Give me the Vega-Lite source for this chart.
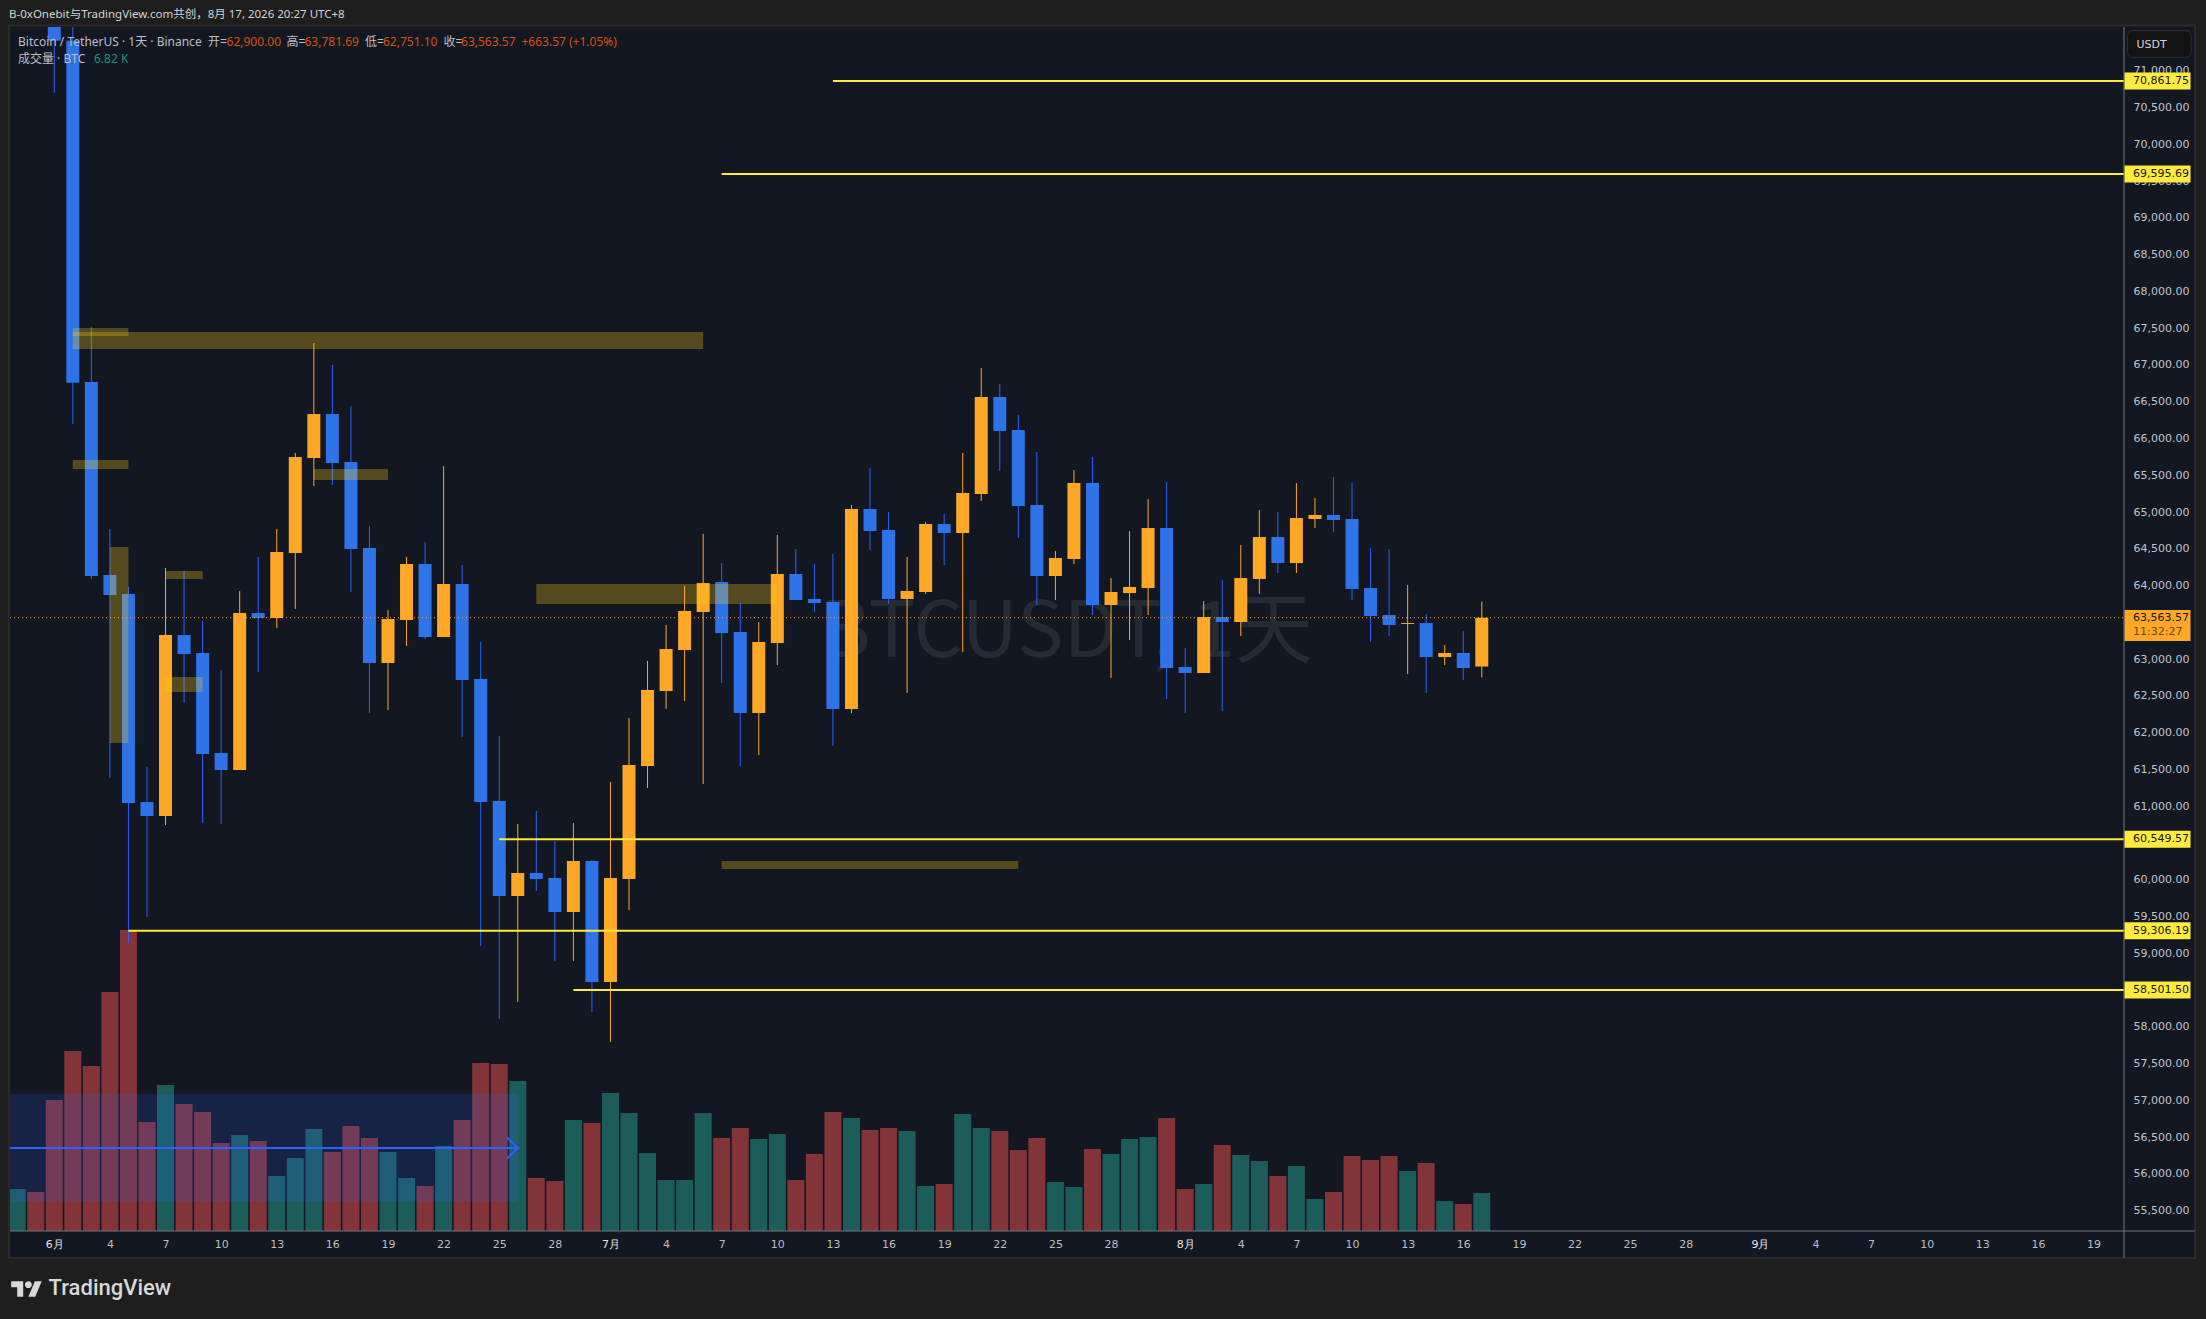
{
"$schema":"https://vega.github.io/schema/vega-lite/v6.json",
"autosize":{"type":"none"},
"padding":{"left":10,"top":27,"right":82,"bottom":88},
"width":2114,"height":1204,
"background":"#121721",
"config":{"view":{"stroke":null},"axis":{"grid":false}},
"datasets":{
"volume":[
{"d":"2026-05-30","v":7535,"up":1},{"d":"2026-05-31","v":6997,"up":0},{"d":"2026-06-01","v":23501,"up":0},{"d":"2026-06-02","v":32292,"up":0},{"d":"2026-06-03","v":29601,"up":0},{"d":"2026-06-04","v":42877,"up":0},{"d":"2026-06-05","v":53999,"up":0},{"d":"2026-06-06","v":19555,"up":0},{"d":"2026-06-07","v":26192,"up":1},{"d":"2026-06-08","v":22784,"up":0},{"d":"2026-06-09","v":21349,"up":0},{"d":"2026-06-10","v":15787,"up":0},{"d":"2026-06-11","v":17222,"up":1},{"d":"2026-06-12","v":16146,"up":0},{"d":"2026-06-13","v":9867,"up":1},{"d":"2026-06-14","v":13096,"up":1},{"d":"2026-06-15","v":18299,"up":1},{"d":"2026-06-16","v":14173,"up":0},{"d":"2026-06-17","v":18837,"up":0},{"d":"2026-06-18","v":16684,"up":0},{"d":"2026-06-19","v":14173,"up":1},{"d":"2026-06-20","v":9508,"up":1},{"d":"2026-06-21","v":8073,"up":0},{"d":"2026-06-22","v":15249,"up":1},{"d":"2026-06-23","v":19913,"up":0},{"d":"2026-06-24","v":30139,"up":0},{"d":"2026-06-25","v":29960,"up":0},{"d":"2026-06-26","v":26910,"up":1},{"d":"2026-06-27","v":9508,"up":0},{"d":"2026-06-28","v":8970,"up":0},{"d":"2026-06-29","v":19913,"up":1},{"d":"2026-06-30","v":19375,"up":0},
{"d":"2026-07-01","v":24757,"up":1},{"d":"2026-07-02","v":21169,"up":1},{"d":"2026-07-03","v":13993,"up":1},{"d":"2026-07-04","v":9149,"up":1},{"d":"2026-07-05","v":9149,"up":1},{"d":"2026-07-06","v":21169,"up":1},{"d":"2026-07-07","v":16684,"up":0},{"d":"2026-07-08","v":18478,"up":0},{"d":"2026-07-09","v":16505,"up":1},{"d":"2026-07-10","v":17402,"up":1},{"d":"2026-07-11","v":9149,"up":0},{"d":"2026-07-12","v":13814,"up":0},{"d":"2026-07-13","v":21349,"up":0},{"d":"2026-07-14","v":20272,"up":1},{"d":"2026-07-15","v":18119,"up":0},{"d":"2026-07-16","v":18478,"up":0},{"d":"2026-07-17","v":17940,"up":1},{"d":"2026-07-18","v":8073,"up":1},{"d":"2026-07-19","v":8432,"up":0},{"d":"2026-07-20","v":20990,"up":1},{"d":"2026-07-21","v":18478,"up":1},{"d":"2026-07-22","v":17940,"up":0},{"d":"2026-07-23","v":14531,"up":0},{"d":"2026-07-24","v":16684,"up":0},{"d":"2026-07-25","v":8791,"up":1},{"d":"2026-07-26","v":7894,"up":1},{"d":"2026-07-27","v":14711,"up":0},{"d":"2026-07-28","v":13814,"up":1},{"d":"2026-07-29","v":16505,"up":1},{"d":"2026-07-30","v":16864,"up":1},{"d":"2026-07-31","v":20272,"up":0},
{"d":"2026-08-01","v":7535,"up":0},{"d":"2026-08-02","v":8432,"up":1},{"d":"2026-08-03","v":15428,"up":0},{"d":"2026-08-04","v":13634,"up":1},{"d":"2026-08-05","v":12558,"up":1},{"d":"2026-08-06","v":9867,"up":0},{"d":"2026-08-07","v":11661,"up":1},{"d":"2026-08-08","v":5741,"up":1},{"d":"2026-08-09","v":6997,"up":0},{"d":"2026-08-10","v":13455,"up":0},{"d":"2026-08-11","v":12737,"up":0},{"d":"2026-08-12","v":13455,"up":0},{"d":"2026-08-13","v":10764,"up":1},{"d":"2026-08-14","v":12199,"up":0},{"d":"2026-08-15","v":5382,"up":1},{"d":"2026-08-16","v":4844,"up":0},{"d":"2026-08-17","v":6820,"up":1}
],
"candles":[
{"d":"2026-06-01","o":71800,"h":72000,"l":70703,"c":71410},{"d":"2026-06-02","o":71410,"h":71650,"l":66198,"c":66759},{"d":"2026-06-03","o":66769,"h":67521,"l":64090,"c":64131},{"d":"2026-06-04","o":64144,"h":64770,"l":61384,"c":63872},{"d":"2026-06-05","o":63886,"h":63981,"l":59140,"c":61044},{"d":"2026-06-06","o":61057,"h":61533,"l":59498,"c":60867},{"d":"2026-06-07","o":60867,"h":64239,"l":60745,"c":63328},{"d":"2026-06-08","o":63328,"h":64199,"l":62404,"c":63070},{"d":"2026-06-09","o":63084,"h":63519,"l":60772,"c":61710},{"d":"2026-06-10","o":61724,"h":62852,"l":60758,"c":61493},{"d":"2026-06-11","o":61493,"h":63927,"l":61493,"c":63627},{"d":"2026-06-12","o":63627,"h":64389,"l":62825,"c":63559},{"d":"2026-06-13","o":63559,"h":64770,"l":63423,"c":64457},{"d":"2026-06-14","o":64443,"h":65803,"l":63682,"c":65749},{"d":"2026-06-15","o":65735,"h":67299,"l":65354,"c":66333},{"d":"2026-06-16","o":66333,"h":67000,"l":65368,"c":65667},{"d":"2026-06-17","o":65681,"h":66442,"l":63913,"c":64498},{"d":"2026-06-18","o":64511,"h":64810,"l":62268,"c":62948},{"d":"2026-06-19","o":62948,"h":63668,"l":62308,"c":63546},{"d":"2026-06-20","o":63532,"h":64389,"l":63179,"c":64294},{"d":"2026-06-21","o":64294,"h":64593,"l":63274,"c":63301},{"d":"2026-06-22","o":63301,"h":65626,"l":63301,"c":64022},{"d":"2026-06-23","o":64022,"h":64280,"l":61941,"c":62716},{"d":"2026-06-24","o":62730,"h":63233,"l":59099,"c":61057},{"d":"2026-06-25","o":61071,"h":61955,"l":58107,"c":59779},{"d":"2026-06-26","o":59779,"h":60758,"l":58338,"c":60092},{"d":"2026-06-27","o":60092,"h":60935,"l":59847,"c":60010},{"d":"2026-06-28","o":60024,"h":60527,"l":58895,"c":59562},{"d":"2026-06-29","o":59562,"h":60772,"l":58895,"c":60255},{"d":"2026-06-30","o":60255,"h":60269,"l":58202,"c":58610},
{"d":"2026-07-01","o":58610,"h":61329,"l":57794,"c":60024},{"d":"2026-07-02","o":60010,"h":62200,"l":59589,"c":61561},{"d":"2026-07-03","o":61547,"h":62975,"l":61248,"c":62580},{"d":"2026-07-04","o":62567,"h":63464,"l":62322,"c":63138},{"d":"2026-07-05","o":63124,"h":63995,"l":62431,"c":63655},{"d":"2026-07-06","o":63641,"h":64702,"l":61302,"c":64035},{"d":"2026-07-07","o":64049,"h":64307,"l":62676,"c":63355},{"d":"2026-07-08","o":63369,"h":63763,"l":61547,"c":62268},{"d":"2026-07-09","o":62268,"h":63505,"l":61697,"c":63233},{"d":"2026-07-10","o":63219,"h":64688,"l":62920,"c":64158},{"d":"2026-07-11","o":64158,"h":64498,"l":63804,"c":63804},{"d":"2026-07-12","o":63818,"h":64294,"l":63641,"c":63763},{"d":"2026-07-13","o":63777,"h":64430,"l":61819,"c":62322},{"d":"2026-07-14","o":62322,"h":65096,"l":62268,"c":65042},{"d":"2026-07-15","o":65042,"h":65599,"l":64484,"c":64742},{"d":"2026-07-16","o":64756,"h":65001,"l":63750,"c":63818},{"d":"2026-07-17","o":63818,"h":64389,"l":62540,"c":63927},{"d":"2026-07-18","o":63913,"h":64865,"l":63886,"c":64838},{"d":"2026-07-19","o":64838,"h":64974,"l":64280,"c":64715},{"d":"2026-07-20","o":64715,"h":65803,"l":63097,"c":65259},{"d":"2026-07-21","o":65246,"h":66959,"l":65150,"c":66565},{"d":"2026-07-22","o":66565,"h":66741,"l":65558,"c":66102},{"d":"2026-07-23","o":66116,"h":66320,"l":64647,"c":65082},{"d":"2026-07-24","o":65096,"h":65817,"l":63736,"c":64131},{"d":"2026-07-25","o":64131,"h":64471,"l":63804,"c":64375},{"d":"2026-07-26","o":64362,"h":65572,"l":64294,"c":65395},{"d":"2026-07-27","o":65395,"h":65749,"l":63600,"c":63736},{"d":"2026-07-28","o":63736,"h":64103,"l":62744,"c":63913},{"d":"2026-07-29","o":63899,"h":64742,"l":63260,"c":63981},{"d":"2026-07-30","o":63967,"h":65178,"l":63600,"c":64783},{"d":"2026-07-31","o":64783,"h":65409,"l":62458,"c":62880},
{"d":"2026-08-01","o":62893,"h":63151,"l":62268,"c":62812},{"d":"2026-08-02","o":62812,"h":63791,"l":62812,"c":63573},{"d":"2026-08-03","o":63573,"h":64076,"l":62295,"c":63505},{"d":"2026-08-04","o":63505,"h":64552,"l":63315,"c":64103},{"d":"2026-08-05","o":64090,"h":65028,"l":63886,"c":64661},{"d":"2026-08-06","o":64661,"h":65001,"l":64171,"c":64307},{"d":"2026-08-07","o":64307,"h":65395,"l":64171,"c":64919},{"d":"2026-08-08","o":64906,"h":65191,"l":64783,"c":64960},{"d":"2026-08-09","o":64960,"h":65477,"l":64729,"c":64892},{"d":"2026-08-10","o":64906,"h":65395,"l":63804,"c":63954},{"d":"2026-08-11","o":63967,"h":64511,"l":63233,"c":63587},{"d":"2026-08-12","o":63600,"h":64498,"l":63315,"c":63464},{"d":"2026-08-13","o":63478,"h":64008,"l":62798,"c":63491},{"d":"2026-08-14","o":63491,"h":63614,"l":62540,"c":63029},{"d":"2026-08-15","o":63029,"h":63192,"l":62920,"c":63084},{"d":"2026-08-16","o":63084,"h":63383,"l":62716,"c":62880},{"d":"2026-08-17","o":62900,"h":63781.69,"l":62751.1,"c":63563.57}
],
"zones":[
{"d":"2026-06-02","d2":"2026-07-06","p":67449,"p2":67217},{"d":"2026-06-02","d2":"2026-06-05","p":67503,"p2":67394},{"d":"2026-06-02","d2":"2026-06-05","p":65708,"p2":65586},{"d":"2026-06-15","d2":"2026-06-19","p":65586,"p2":65436},{"d":"2026-06-04","d2":"2026-06-05","p":64525,"p2":61860},{"d":"2026-06-07","d2":"2026-06-09","p":64199,"p2":64090},{"d":"2026-06-07","d2":"2026-06-09","p":62757,"p2":62553},{"d":"2026-06-27","d2":"2026-07-10","p":64022,"p2":63750},{"d":"2026-07-07","d2":"2026-07-23","p":60255,"p2":60147}
],
"band":[{"d":"2026-05-29T14:40:00Z","d2":"2026-06-26","p":57087,"p2":55622}],
"arrow":[
{"d":"2026-05-29T14:40:00Z","p":56352,"seq":1},{"d":"2026-06-26","p":56352,"seq":2},{"d":"2026-06-25T09:36:00Z","p":56502,"seq":3},{"d":"2026-06-26","p":56352,"seq":4},{"d":"2026-06-25T09:36:00Z","p":56203,"seq":5}
],
"levels":[
{"d":"2026-07-13","p":70861.75,"text":"70,861.75"},{"d":"2026-07-07","p":69595.69,"text":"69,595.69"},{"d":"2026-06-25","p":60549.57,"text":"60,549.57"},{"d":"2026-06-05","p":59306.19,"text":"59,306.19"},{"d":"2026-06-29","p":58501.5,"text":"58,501.50"}
],
"last":[{"d":"2026-05-29T14:40:00Z","p":63563.57}],
"lastTag":[{"d":"2026-09-20T16:05:00Z","d2":"2026-09-24T05:30:00Z","p":63457}],
"frame":[
{"d":"2026-05-28","d2":"2026-09-26","p":72200,"p2":71615},
{"d":"2026-05-28","d2":"2026-09-26","p":54857,"p2":53900},
{"d":"2026-05-28","d2":"2026-05-29T13:30:00Z","p":72200,"p2":53900},
{"d":"2026-09-24T11:30:00Z","d2":"2026-09-26","p":72200,"p2":53900}
],
"paneEdge":[{"d":"2026-05-29T13:30:00Z","d2":"2026-09-24T11:30:00Z","p":71615,"p2":54857}],
"vEdge":[{"d":"2026-09-20T15:22:00Z","p":71596,"p2":54857}],
"hEdge":[{"d":"2026-05-29T14:40:00Z","d2":"2026-09-24T11:00:00Z","p":55224}],
"button":[{"d":"2026-09-20T20:00:00Z","d2":"2026-09-24T06:14:00Z","p":71546,"p2":71184}],
"legend":[
{"d":"2026-05-30T01:00:00Z","p":71392,"text":"Bitcoin / TetherUS · 1天 · Binance","tone":"g"},
{"d":"2026-06-09T07:00:00Z","p":71392,"text":"开=","tone":"g"},
{"d":"2026-06-10T07:00:00Z","p":71392,"text":"62,900.00","tone":"o"},
{"d":"2026-06-13T12:35:00Z","p":71392,"text":"高=","tone":"g"},
{"d":"2026-06-14T11:53:00Z","p":71392,"text":"63,781.69","tone":"o"},
{"d":"2026-06-17T18:14:00Z","p":71392,"text":"低=","tone":"g"},
{"d":"2026-06-18T17:31:00Z","p":71392,"text":"62,751.10","tone":"o"},
{"d":"2026-06-22T00:00:00Z","p":71392,"text":"收=","tone":"g"},
{"d":"2026-06-22T22:33:00Z","p":71392,"text":"63,563.57","tone":"o"},
{"d":"2026-06-26T04:48:00Z","p":71392,"text":"+663.57 (+1.05%)","tone":"o"},
{"d":"2026-05-30T01:00:00Z","p":71165,"text":"成交量 · BTC","tone":"g"},
{"d":"2026-06-03T03:22:00Z","p":71165,"text":"6.82 K","tone":"t"}
],
"header":[{"d":"2026-05-29T13:26:00Z","p":71763,"text":"B-0xOnebit与TradingView.com共创，8月 17, 2026 20:27 UTC+8"}],
"unit":[{"d":"2026-09-21T07:30:00Z","p":71358,"text":"USDT"}],
"tagText":[
{"d":"2026-09-21T03:00:00Z","p":70861.75,"text":"70,861.75"},{"d":"2026-09-21T03:00:00Z","p":69595.69,"text":"69,595.69"},{"d":"2026-09-21T03:00:00Z","p":60549.57,"text":"60,549.57"},{"d":"2026-09-21T03:00:00Z","p":59306.19,"text":"59,306.19"},{"d":"2026-09-21T03:00:00Z","p":58501.5,"text":"58,501.50"},{"d":"2026-09-21T03:00:00Z","p":63563.57,"text":"63,563.57"}
],
"countdown":[{"d":"2026-09-21T03:00:00Z","p":63373,"text":"11:32:27"}],
"watermark":[{"d":"2026-07-25T14:00:00Z","p":63340,"text":"BTCUSDT, 1天"}],
"brand":[{"d":"2026-05-31T16:38:00Z","p":54449,"text":"TradingView"}],
"logo":[{"d":"2026-05-30T12:14:00Z","p":54436}]
},
"resolve":{"scale":{"y":"independent"},"axis":{"y":"independent"}},
"layer":[
{
"data":{"name":"volume"},
"mark":{"type":"bar","width":17,"clip":true},
"encoding":{
"x":{"field":"d","type":"temporal","scale":{"domain":["2026-05-29T14:40:00Z","2026-09-20T15:22:00Z"],"nice":false,"padding":0},
"axis":{"title":null,"orient":"bottom","domain":false,"ticks":false,"labelPadding":7,"labelFont":"DejaVu Sans","labelFontSize":11,"labelColor":{"condition":{"test":"utcdate(datum.value)==1","value":"#e6e6e6"},"value":"#bcbec4"},"labelOverlap":false,"labelFlush":false,"labelAngle":0,"tickCount":60,
"labelExpr":"utcdate(datum.value)==1 ? (utcmonth(datum.value)+1)+'月' : ''+utcdate(datum.value)",
"values":["2026-06-01T00:00:00Z","2026-06-04T00:00:00Z","2026-06-07T00:00:00Z","2026-06-10T00:00:00Z","2026-06-13T00:00:00Z","2026-06-16T00:00:00Z","2026-06-19T00:00:00Z","2026-06-22T00:00:00Z","2026-06-25T00:00:00Z","2026-06-28T00:00:00Z","2026-07-01T00:00:00Z","2026-07-04T00:00:00Z","2026-07-07T00:00:00Z","2026-07-10T00:00:00Z","2026-07-13T00:00:00Z","2026-07-16T00:00:00Z","2026-07-19T00:00:00Z","2026-07-22T00:00:00Z","2026-07-25T00:00:00Z","2026-07-28T00:00:00Z","2026-08-01T00:00:00Z","2026-08-04T00:00:00Z","2026-08-07T00:00:00Z","2026-08-10T00:00:00Z","2026-08-13T00:00:00Z","2026-08-16T00:00:00Z","2026-08-19T00:00:00Z","2026-08-22T00:00:00Z","2026-08-25T00:00:00Z","2026-08-28T00:00:00Z","2026-09-01T00:00:00Z","2026-09-04T00:00:00Z","2026-09-07T00:00:00Z","2026-09-10T00:00:00Z","2026-09-13T00:00:00Z","2026-09-16T00:00:00Z","2026-09-19T00:00:00Z"]}},
"y":{"field":"v","type":"quantitative","axis":null,"scale":{"domain":[0,216000],"nice":false,"zero":true}},
"fill":{"condition":{"test":"datum.up==1","value":"#1c5d5c"},"value":"#823438"}
}
},
{
"layer":[
{
"data":{"name":"watermark"},
"mark":{"type":"text","font":"Noto Sans CJK SC","fontSize":78,"align":"center","baseline":"middle","color":"#262a33"},
"encoding":{
"x":{"field":"d","type":"temporal"},
"y":{"field":"p","type":"quantitative","scale":{"domain":[55224,71596],"nice":false,"zero":false},
"axis":{"title":null,"orient":"right","domain":false,"ticks":false,"labelPadding":9,"labelFont":"DejaVu Sans","labelFontSize":11,"labelColor":"#c3c5cb","format":",.2f","tickCount":60,"labelOverlap":false,
"values":[55500,56000,56500,57000,57500,58000,58500,59000,59500,60000,60500,61000,61500,62000,62500,63000,63500,64000,64500,65000,65500,66000,66500,67000,67500,68000,68500,69000,69500,70000,70500,71000]}},
"text":{"field":"text"}
}
},
{
"data":{"name":"candles"},
"mark":{"type":"rule","strokeWidth":1,"clip":true},
"encoding":{
"x":{"field":"d","type":"temporal"},
"y":{"field":"h","type":"quantitative"},"y2":{"field":"l"},
"stroke":{"condition":{"test":"datum.c>=datum.o","value":"#ffa726"},"value":"#2962ff"}
}
},
{
"data":{"name":"candles"},
"mark":{"type":"bar","width":13,"clip":true},
"encoding":{
"x":{"field":"d","type":"temporal"},
"y":{"field":"o","type":"quantitative"},"y2":{"field":"c"},
"fill":{"condition":{"test":"datum.c>=datum.o","value":"#ffa726"},"value":"#2f73e8"}
}
},
{
"data":{"name":"zones"},
"mark":{"type":"rect","fill":"#ffd116","opacity":0.28},
"encoding":{"x":{"field":"d","type":"temporal"},"x2":{"field":"d2"},"y":{"field":"p","type":"quantitative"},"y2":{"field":"p2"}}
},
{
"data":{"name":"band"},
"mark":{"type":"rect","fill":"#2962ff","opacity":0.16},
"encoding":{"x":{"field":"d","type":"temporal"},"x2":{"field":"d2"},"y":{"field":"p","type":"quantitative"},"y2":{"field":"p2"}}
},
{
"data":{"name":"arrow"},
"mark":{"type":"line","stroke":"#2962ff","strokeWidth":2},
"encoding":{"x":{"field":"d","type":"temporal"},"y":{"field":"p","type":"quantitative"},"order":{"field":"seq"}}
},
{
"data":{"name":"levels"},
"mark":{"type":"rule","stroke":"#ffeb3b","strokeWidth":2},
"encoding":{"x":{"field":"d","type":"temporal"},"x2":{"datum":{"year":2026,"month":9,"date":20,"hours":15,"minutes":22,"utc":true}},"y":{"field":"p","type":"quantitative"}}
},
{
"data":{"name":"last"},
"mark":{"type":"rule","stroke":"#ffa726","strokeWidth":1,"strokeDash":[1,3]},
"encoding":{"x":{"field":"d","type":"temporal"},"x2":{"datum":{"year":2026,"month":9,"date":20,"hours":15,"minutes":22,"utc":true}},"y":{"field":"p","type":"quantitative"}}
},
{
"data":{"name":"frame"},
"mark":{"type":"rect","fill":"#1e1e1e"},
"encoding":{"x":{"field":"d","type":"temporal"},"x2":{"field":"d2"},"y":{"field":"p","type":"quantitative"},"y2":{"field":"p2"}}
},
{
"data":{"name":"paneEdge"},
"mark":{"type":"rect","fillOpacity":0,"stroke":"#2a2a2a","strokeWidth":2},
"encoding":{"x":{"field":"d","type":"temporal"},"x2":{"field":"d2"},"y":{"field":"p","type":"quantitative"},"y2":{"field":"p2"}}
},
{
"data":{"name":"vEdge"},
"mark":{"type":"rule","stroke":"#74777f","strokeWidth":1},
"encoding":{"x":{"field":"d","type":"temporal"},"y":{"field":"p","type":"quantitative"},"y2":{"field":"p2"}}
},
{
"data":{"name":"hEdge"},
"mark":{"type":"rule","stroke":"#74777f","strokeWidth":1},
"encoding":{"x":{"field":"d","type":"temporal"},"x2":{"field":"d2"},"y":{"field":"p","type":"quantitative"}}
},
{
"data":{"name":"levels"},
"mark":{"type":"rule","stroke":"#ffeb3b","strokeWidth":17},
"encoding":{"x":{"datum":{"year":2026,"month":9,"date":20,"hours":16,"minutes":5,"utc":true},"type":"temporal"},"x2":{"datum":{"year":2026,"month":9,"date":24,"hours":5,"minutes":30,"utc":true}},"y":{"field":"p","type":"quantitative"}}
},
{
"data":{"name":"lastTag"},
"mark":{"type":"rule","stroke":"#ffa726","strokeWidth":31},
"encoding":{"x":{"field":"d","type":"temporal"},"x2":{"field":"d2"},"y":{"field":"p","type":"quantitative"}}
},
{
"data":{"name":"tagText"},
"mark":{"type":"text","font":"DejaVu Sans","fontSize":11,"align":"left","baseline":"middle","color":"#131722"},
"encoding":{"x":{"field":"d","type":"temporal"},"y":{"field":"p","type":"quantitative"},"text":{"field":"text"}}
},
{
"data":{"name":"countdown"},
"mark":{"type":"text","font":"DejaVu Sans","fontSize":11,"align":"left","baseline":"middle","color":"#6b4a10"},
"encoding":{"x":{"field":"d","type":"temporal"},"y":{"field":"p","type":"quantitative"},"text":{"field":"text"}}
},
{
"data":{"name":"button"},
"mark":{"type":"rect","fill":"#131313","stroke":"#2e2e2e","strokeWidth":1,"cornerRadius":5},
"encoding":{"x":{"field":"d","type":"temporal"},"x2":{"field":"d2"},"y":{"field":"p","type":"quantitative"},"y2":{"field":"p2"}}
},
{
"data":{"name":"unit"},
"mark":{"type":"text","font":"DejaVu Sans","fontSize":11,"align":"left","baseline":"middle","color":"#d1d4dc"},
"encoding":{"x":{"field":"d","type":"temporal"},"y":{"field":"p","type":"quantitative"},"text":{"field":"text"}}
},
{
"data":{"name":"legend"},
"mark":{"type":"text","font":"Noto Sans, Noto Sans CJK SC","fontSize":12,"align":"left","baseline":"middle"},
"encoding":{"x":{"field":"d","type":"temporal"},"y":{"field":"p","type":"quantitative"},"text":{"field":"text"},
"color":{"condition":[{"test":"datum.tone=='o'","value":"#d8500f"},{"test":"datum.tone=='t'","value":"#1e9080"}],"value":"#bdbfc7"}}
},
{
"data":{"name":"header"},
"mark":{"type":"text","font":"Noto Sans, Noto Sans CJK SC","fontSize":11.5,"align":"left","baseline":"middle","color":"#d4d4d4"},
"encoding":{"x":{"field":"d","type":"temporal"},"y":{"field":"p","type":"quantitative"},"text":{"field":"text"}}
},
{
"data":{"name":"brand"},
"mark":{"type":"text","font":"Roboto","fontSize":22,"fontWeight":500,"align":"left","baseline":"middle","color":"#d8d8d8"},
"encoding":{"x":{"field":"d","type":"temporal"},"y":{"field":"p","type":"quantitative"},"text":{"field":"text"}}
},
{
"data":{"name":"logo"},
"mark":{"type":"point","filled":true,"opacity":1,"color":"#d8d8d8","size":2.96,"shape":"M-4 9H-11V-2H-18V-9H-4ZM10 9H2L9.5 -9H17.5ZM-2 -5a4 4 0 1 0 8 0a4 4 0 1 0 -8 0Z"},
"encoding":{"x":{"field":"d","type":"temporal"},"y":{"field":"p","type":"quantitative"}}
}
]
}
]
}
